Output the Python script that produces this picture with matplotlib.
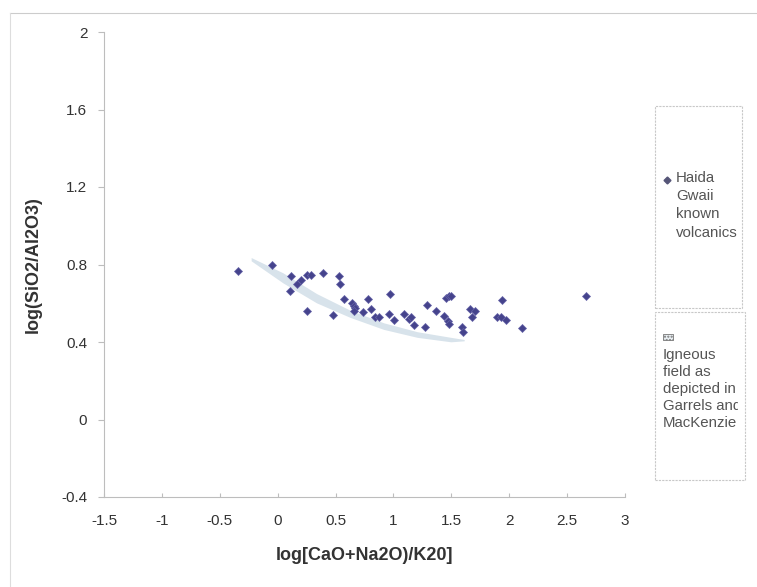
"""Haida Gwaii volcanics on the Garrels & MacKenzie SiO2/Al2O3 diagram."""

import matplotlib
matplotlib.use("Agg")
import matplotlib.pyplot as plt
from matplotlib.patches import Rectangle

plt.rcParams["font.family"] = ["Liberation Sans", "DejaVu Sans"]

# Haida Gwaii known volcanics: log[(CaO+Na2O)/K2O], log(SiO2/Al2O3)
haida_x = [-0.345, -0.05, 0.113, 0.17, 0.2, 0.255, 0.287, 0.394, 0.53, 0.539,
           0.11, 0.25, 0.48, 0.574, 0.64, 0.655, 0.67, 0.66, 0.78, 0.733,
           0.806, 0.843, 0.872, 0.974, 0.959, 1.009, 1.09, 1.133, 1.154, 1.177,
           1.27, 1.293, 1.371, 1.452, 1.48, 1.5, 1.44, 1.467, 1.48, 1.589,
           1.597, 1.658, 1.704, 1.676, 1.939, 1.896, 1.93, 1.968, 2.113, 2.66]
haida_y = [0.765, 0.796, 0.74, 0.70, 0.72, 0.746, 0.748, 0.755, 0.74, 0.70,
           0.662, 0.56, 0.539, 0.623, 0.60, 0.585, 0.575, 0.56, 0.621, 0.553,
           0.568, 0.527, 0.527, 0.648, 0.545, 0.516, 0.547, 0.52, 0.53, 0.487,
           0.475, 0.589, 0.559, 0.625, 0.637, 0.637, 0.533, 0.508, 0.492, 0.475,
           0.453, 0.57, 0.561, 0.53, 0.616, 0.527, 0.53, 0.513, 0.47, 0.637]

# Igneous field (Garrels & MacKenzie) band edges
field_x = [-0.229, 0.046, 0.336, 0.626, 0.916, 1.206, 1.496, 1.611]
field_upper = [0.836, 0.757, 0.650, 0.564, 0.499, 0.453, 0.424, 0.413]
field_lower = [0.819, 0.705, 0.602, 0.527, 0.465, 0.424, 0.401, 0.406]

x_ticks = [-1.5, -1, -0.5, 0, 0.5, 1, 1.5, 2, 2.5, 3]
y_ticks = [-0.4, 0, 0.4, 0.8, 1.2, 1.6, 2]

W, H = 757, 587


def px(x, y):
    """Pixel position (from top-left) to figure fraction."""
    return x / W, 1 - y / H


def main():
    fig = plt.figure(figsize=(W / 100, H / 100), dpi=100)
    fig.patch.set_facecolor("white")

    # outer chart frame (only top and left edges show in the scan)
    fx0, fy0 = px(10, 13)
    fx1, fy1 = px(757, 587)
    fig.lines.append(plt.Line2D([fx0, fx1], [fy0, fy0], transform=fig.transFigure,
                                color="#cccccc", linewidth=0.8))
    fig.lines.append(plt.Line2D([fx0, fx0], [fy0, fy1], transform=fig.transFigure,
                                color="#dddddd", linewidth=0.8))

    ax = fig.add_axes([104 / W, 1 - 497 / H, 521 / W, 465 / H])
    ax.fill_between(field_x, field_lower, field_upper, color="#d8e3eb",
                    linewidth=0, zorder=1)
    ax.plot(haida_x, haida_y, linestyle="none", marker="D", markersize=3.9,
            color="#45438c", markeredgecolor="#6664a8", markeredgewidth=0.5,
            zorder=2)

    ax.set_xlim(-1.5, 3)
    ax.set_ylim(-0.4, 2)
    ax.set_xticks(x_ticks)
    ax.set_xticklabels([f"{t:g}" for t in x_ticks])
    ax.set_yticks(y_ticks)
    ax.set_yticklabels([f"{t:g}" for t in y_ticks])
    for s in ["top", "right"]:
        ax.spines[s].set_visible(False)
    for s in ["left", "bottom"]:
        ax.spines[s].set_color("#bdbdbd")
        ax.spines[s].set_linewidth(0.8)
    ax.tick_params(axis="y", direction="out", length=4, color="#bdbdbd",
                   labelsize=11, labelcolor="#333333", pad=8)
    ax.tick_params(axis="x", direction="in", length=3, color="#bdbdbd",
                   labelsize=11, labelcolor="#333333", pad=12)

    ax.set_xlabel("log[CaO+Na2O)/K20]", fontsize=13, fontweight="bold",
                  color="#333333", labelpad=14)
    ax.set_ylabel("log(SiO2/Al2O3)", fontsize=13, fontweight="bold",
                  color="#333333", labelpad=14)

    # legend boxes
    box1 = Rectangle(px(655, 308), 87 / W, 202 / H, transform=fig.transFigure,
                     fill=False, edgecolor="#c8c8c8", linewidth=0.8,
                     linestyle=(0, (2, 1)))
    box2 = Rectangle(px(655, 480), 90 / W, 168 / H, transform=fig.transFigure,
                     fill=False, edgecolor="#c8c8c8", linewidth=0.8,
                     linestyle=(0, (2, 1)))
    fig.patches.extend([box1, box2])
    clip2 = Rectangle(px(655, 480), 83 / W, 168 / H, transform=fig.transFigure)

    fig.lines.append(plt.Line2D([px(667, 0)[0]], [px(0, 180)[1]],
                                transform=fig.transFigure, marker="D",
                                markersize=3.5, color="#555577",
                                linestyle="none"))
    t1 = fig.text(*px(676, 171), "Haida\nGwaii\nknown\nvolcanics",
                  fontsize=10.8, color="#555555", va="top", ha="left",
                  linespacing=1.38)
    t1.set_clip_path(box1)

    fig.patches.append(Rectangle(px(663, 340), 10 / W, 6 / H,
                                 transform=fig.transFigure,
                                 facecolor="#e8eef2", edgecolor="#777777",
                                 linewidth=0.6, hatch="....."))
    t2 = fig.text(*px(663, 348), "Igneous\nfield as\ndepicted in\nGarrels and\nMacKenzie",
                  fontsize=10.8, color="#555555", va="top", ha="left",
                  linespacing=1.28)
    t2.set_clip_path(clip2)

    fig.savefig("out.png", dpi=100)


if __name__ == "__main__":
    main()
